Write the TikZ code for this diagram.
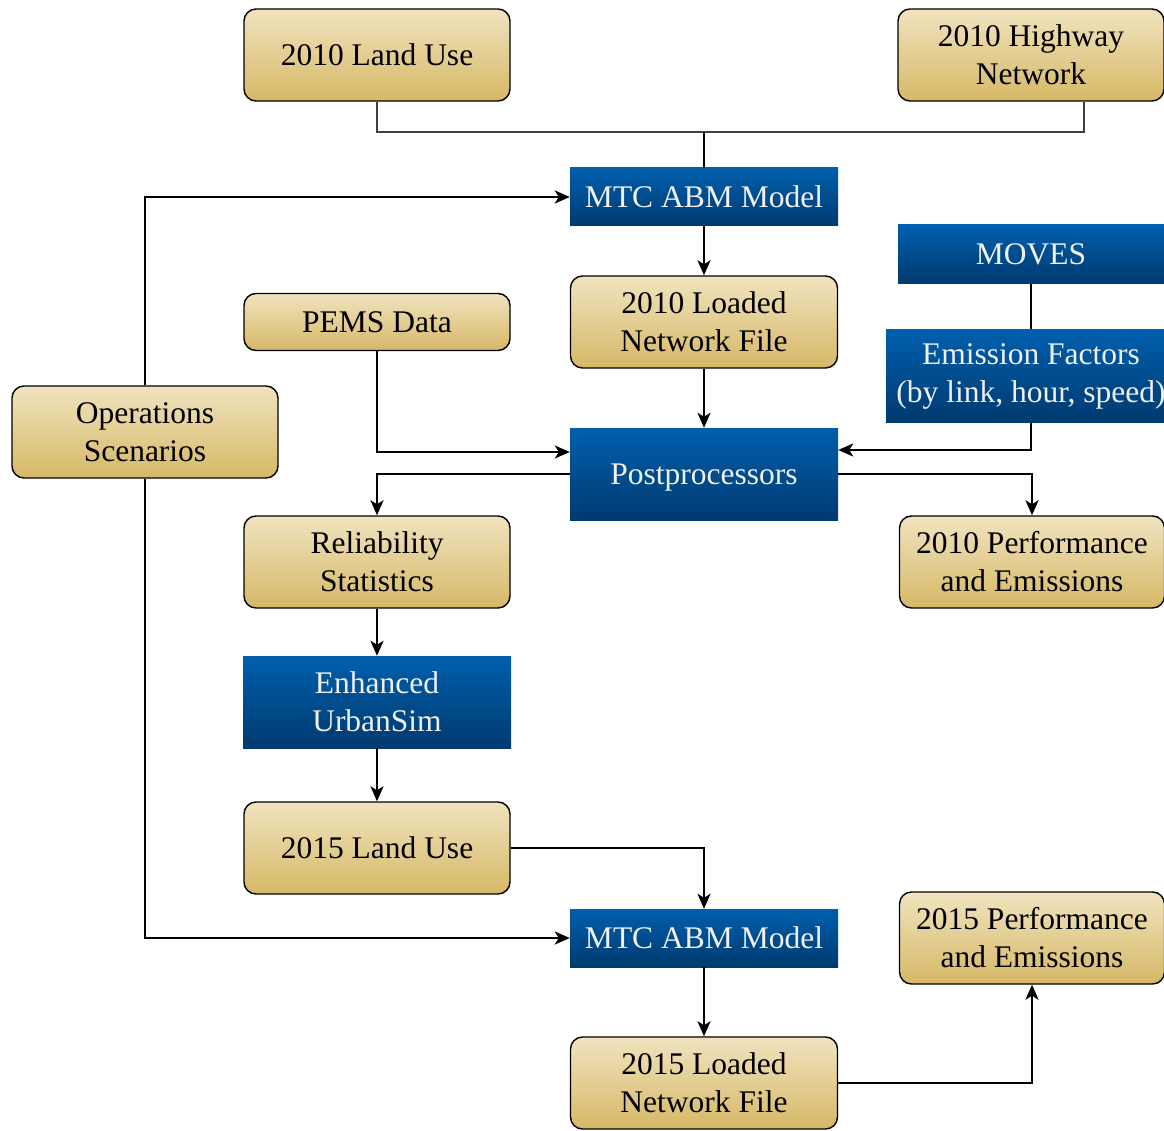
\documentclass[tikz,border=0pt]{standalone}
\usepackage{fontspec}
\setmainfont{Liberation Serif}
\usetikzlibrary{arrows.meta}

\definecolor{tantop}{HTML}{F0E3BF}
\definecolor{tanbot}{HTML}{D6B866}
\definecolor{bluetop}{HTML}{005FAD}
\definecolor{bluebot}{HTML}{003A6F}

\tikzset{
  tanbox/.style={draw=black, line width=1.4pt, rounded corners=12pt,
    top color=tantop, bottom color=tanbot, align=center, inner sep=0pt,
    minimum width=266pt, minimum height=92pt},
  bluebox/.style={top color=bluetop, bottom color=bluebot, text=white!94!black,
    align=center, inner sep=0pt, minimum width=268pt, minimum height=92pt},
  feed/.style={line width=2.4pt, -{Stealth[length=15pt,width=13pt,inset=4pt]}},
  joinline/.style={line width=1.5pt, draw=black!75},
}

\begin{document}
\begin{tikzpicture}[x=1pt, y=-1pt, font=\fontsize{31.5}{38}\selectfont]
  \useasboundingbox (0,0) rectangle (1164,1131);

  % inputs
  \node[tanbox] (lu10) at (377,55) {2010 Land Use};
  \node[tanbox] (hwy) at (1031,55) {2010 Highway\\Network};
  \node[tanbox, minimum height=57pt] (pems) at (377,322) {PEMS Data};
  \node[tanbox] (ops) at (145,432) {Operations\\Scenarios};

  % models and files
  \node[bluebox, minimum height=58pt] (mtc10) at (704,197) {MTC ABM Model};
  \node[tanbox, minimum width=267pt] (lnf10) at (704,322) {2010 Loaded\\Network File};
  \node[bluebox, minimum height=59pt, minimum width=266pt] (moves) at (1031,254) {MOVES};
  \node[bluebox, minimum height=93pt, minimum width=290pt] (emis) at (1031,376) {Emission Factors\\(by link, hour, speed)};
  \node[bluebox, text depth=0pt] (post) at (704,474) {Postprocessors};
  \node[tanbox] (rel) at (377,562) {Reliability\\Statistics};
  \node[tanbox, minimum width=265pt] (perf10) at (1032,562) {2010 Performance\\and Emissions};
  \node[bluebox] (urban) at (377,702) {Enhanced\\UrbanSim};
  \node[tanbox] (lu15) at (377,848) {2015 Land Use};
  \node[bluebox, minimum height=58pt] (mtc15) at (704,938) {MTC ABM Model};
  \node[tanbox, minimum width=265pt] (perf15) at (1032,938) {2015 Performance\\and Emissions};
  \node[tanbox, minimum width=267pt] (lnf15) at (704,1083) {2015 Loaded\\Network File};

  % 2010 inputs into the model
  \coordinate (join) at (704,132);
  \draw[joinline] (lu10.south) |- (join) -| ([xshift=53pt]hwy.south);
  \draw[line width=2.4pt] (join) -- (mtc10.north);

  % arrows
  \draw[feed] (ops.north) |- (mtc10.west);
  \draw[feed] (ops.south) |- (mtc15.west);
  \draw[feed] (mtc10) -- (lnf10);
  \draw[feed] (lnf10) -- (post);
  \draw[feed] (pems.south) |- ([yshift=22pt]post.west);
  \draw[line width=2.4pt] (moves) -- (emis);
  \draw[feed] (emis.south) |- ([yshift=24pt]post.east);
  \draw[feed] (post.west) -| (rel.north);
  \draw[feed] (post.east) -| (perf10.north);
  \draw[feed] (rel) -- (urban);
  \draw[feed] (urban) -- (lu15);
  \draw[feed] (lu15.east) -| (mtc15.north);
  \draw[feed] (mtc15) -- (lnf15);
  \draw[feed] (lnf15.east) -| (perf15.south);
\end{tikzpicture}
\end{document}
